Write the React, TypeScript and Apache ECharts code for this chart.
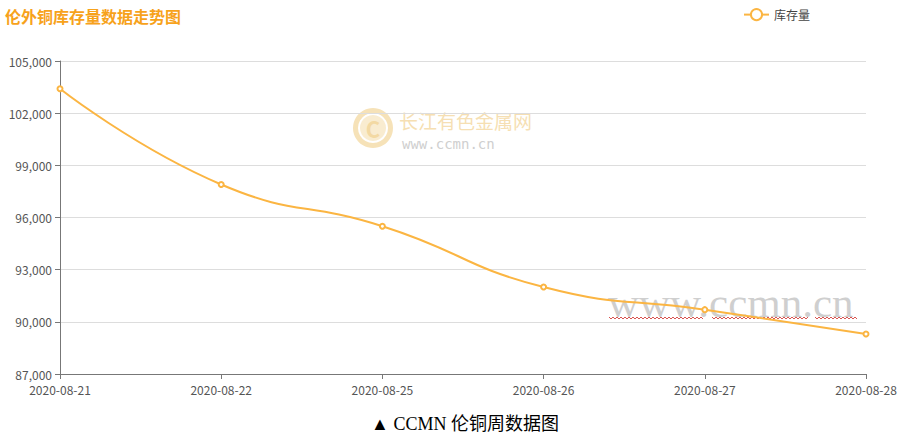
import React, { useEffect, useRef } from "react";
import * as echarts from "echarts";

const categories = ["2020-08-21", "2020-08-22", "2020-08-25", "2020-08-26", "2020-08-27", "2020-08-28"];
const stockValues = [103400, 97900, 95500, 92000, 90700, 89300];
const seriesName = "库存量";
const titleText = "伦外铜库存量数据走势图";
const captionText = "▲ CCMN 伦铜周数据图";

function wavy(x0: number, x1: number, y: number) {
  const pts: number[][] = [];
  let up = true;
  for (let x = x0; x <= x1; x += 2) {
    pts.push([x, up ? y - 1 : y + 1]);
    up = !up;
  }
  return pts;
}

export default function App() {
  const ref = useRef<HTMLDivElement>(null);
  useEffect(() => {
    document.body.style.margin = "0";
    const chart = echarts.init(ref.current!, null, { renderer: "svg" });
    const font = "'Microsoft YaHei', 'Noto Sans CJK SC', sans-serif";
    chart.setOption({
      animation: false,
      backgroundColor: "#fff",
      title: {
        text: titleText,
        left: 0,
        top: 3,
        textStyle: { color: "#f7a21b", fontSize: 16, fontWeight: "bold", fontFamily: font },
      },
      legend: {
        top: 3,
        left: 738,
        itemWidth: 25,
        itemHeight: 14,
        itemGap: 5,
        textStyle: { color: "#444", fontSize: 12, fontFamily: font },
        data: [seriesName],
      },
      grid: { left: 60, right: 37, top: 61, bottom: 61, containLabel: false },
      xAxis: {
        type: "category",
        data: categories,
        boundaryGap: false,
        axisLine: { lineStyle: { color: "#777" } },
        axisTick: { lineStyle: { color: "#777" } },
        axisLabel: { color: "#555", fontSize: 12, fontFamily: font, margin: 9 },
      },
      yAxis: {
        type: "value",
        min: 87000,
        max: 105000,
        interval: 3000,
        axisLine: { show: true, lineStyle: { color: "#777" } },
        axisTick: { show: true, lineStyle: { color: "#777" } },
        axisLabel: {
          color: "#555",
          fontSize: 12,
          fontFamily: font,
          formatter: (v: number) => v.toLocaleString("en-US"),
        },
        splitLine: { lineStyle: { color: "#ddd" } },
      },
      graphic: [
        { type: "ring", shape: { cx: 373, cy: 128, r: 20, r0: 15 }, style: { fill: "#f6e2b8" } },
        { type: "circle", shape: { cx: 373, cy: 128, r: 13 }, style: { fill: "#f9ecd0" } },
        {
          type: "text",
          x: 373,
          y: 128,
          style: { text: "C", fill: "#f3d9a3", fontSize: 22, fontWeight: "bold", align: "center", verticalAlign: "middle", fontFamily: font },
        },
        {
          type: "text",
          x: 399,
          y: 111,
          style: { text: "长江有色金属网", fill: "#f6dfb3", fontSize: 19, fontFamily: font },
        },
        {
          type: "text",
          x: 402,
          y: 137,
          style: { text: "www.ccmn.cn", fill: "#cfcfcf", fontSize: 14, fontFamily: "'DejaVu Sans Mono', monospace" },
        },
        {
          type: "text",
          x: 608,
          y: 281,
          z: 1,
          style: { text: "www.ccmn.cn", fill: "#cfcfcf", fontSize: 43, fontFamily: "'Liberation Serif', serif" },
        },
        { type: "polyline", shape: { points: wavy(609, 703, 318) }, style: { stroke: "#d9534f", lineWidth: 1, fill: null } },
        { type: "polyline", shape: { points: wavy(712, 808, 318) }, style: { stroke: "#d9534f", lineWidth: 1, fill: null } },
        { type: "polyline", shape: { points: wavy(815, 858, 318) }, style: { stroke: "#d9534f", lineWidth: 1, fill: null } },
        {
          type: "text",
          x: 465,
          y: 424,
          style: { text: captionText, fill: "#000", fontSize: 18, align: "center", verticalAlign: "middle", fontFamily: "'Liberation Serif', 'Noto Sans CJK SC', serif" },
        },
      ],
      series: [
        {
          name: seriesName,
          type: "line",
          data: stockValues,
          smooth: true,
          symbol: "emptyCircle",
          symbolSize: 5,
          z: 10,
          lineStyle: { color: "#fbb542", width: 2 },
          itemStyle: { color: "#fbb542" },
        },
      ],
    });
    return () => chart.dispose();
  }, []);
  return <div ref={ref} style={{ width: 903, height: 435 }} />;
}
